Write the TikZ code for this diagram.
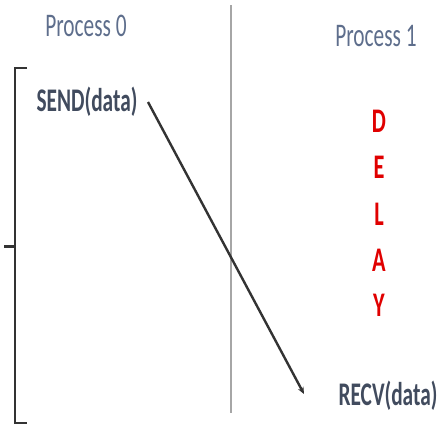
\documentclass[tikz,border=0pt]{standalone}
\usepackage{fontspec}
\setmainfont{Carlito}
\usetikzlibrary{arrows.meta}
\definecolor{proccol}{HTML}{5E6E8C}
\definecolor{callcol}{HTML}{414B5E}
\definecolor{delaycol}{HTML}{E00000}
\definecolor{barcol}{HTML}{333333}
\tikzset{
  proclabel/.style={inner sep=0pt, text=proccol, font=\fontsize{22}{24}\selectfont},
  calllabel/.style={inner sep=0pt, text=callcol, font=\fontsize{22}{24}\selectfont\bfseries},
  delayletter/.style={inner sep=0pt, text=delaycol, font=\fontsize{23}{24}\selectfont\bfseries},
  msgarrow/.style={draw=barcol, line width=2.4pt, -{Stealth[length=7pt,width=6pt]}},
  bracketline/.style={draw=barcol, line width=2pt},
  divider/.style={draw=black!35, line width=1.3pt}
}
\newcommand{\tallx}[1]{\scalebox{0.97}[1.5]{#1}}
\begin{document}
\begin{tikzpicture}[x=1pt,y=-1pt]
\useasboundingbox (0,0) rectangle (442,426);
% divider
\coordinate (dtop) at (231,5);
\coordinate (dbot) at (231,413);
\draw[divider] (dtop) -- (dbot);
% labels
\node[proclabel] (p0) at (86,26) {\tallx{Process 0}};
\node[proclabel] (p1) at (376,36) {\tallx{Process 1}};
\node[calllabel] (send) at (87,102) {\tallx{SEND(data)}};
\node[calllabel] (recv) at (388,396) {\tallx{RECV(data)}};
% delay
\node[delayletter] (d1) at (379,121) {\tallx{D}};
\node[delayletter] (d2) at (379,167) {\tallx{E}};
\node[delayletter] (d3) at (379,214) {\tallx{L}};
\node[delayletter] (d4) at (379,260) {\tallx{A}};
\node[delayletter] (d5) at (379,305) {\tallx{Y}};
% arrow
\coordinate (astart) at (148,102);
\coordinate (aend) at (304,394);
\draw[msgarrow] (astart) -- (aend);
% bracket
\coordinate (btopr) at (27,68);
\coordinate (btop) at (15,68);
\coordinate (bmid) at (15,246);
\coordinate (bmidl) at (4,246);
\coordinate (bbot) at (15,423);
\coordinate (bbotr) at (27,423);
\draw[bracketline] (btopr) -- (btop) -- (bbot) -- (bbotr);
\draw[bracketline, line width=3pt] (bmid) -- (bmidl);
\end{tikzpicture}
\end{document}
